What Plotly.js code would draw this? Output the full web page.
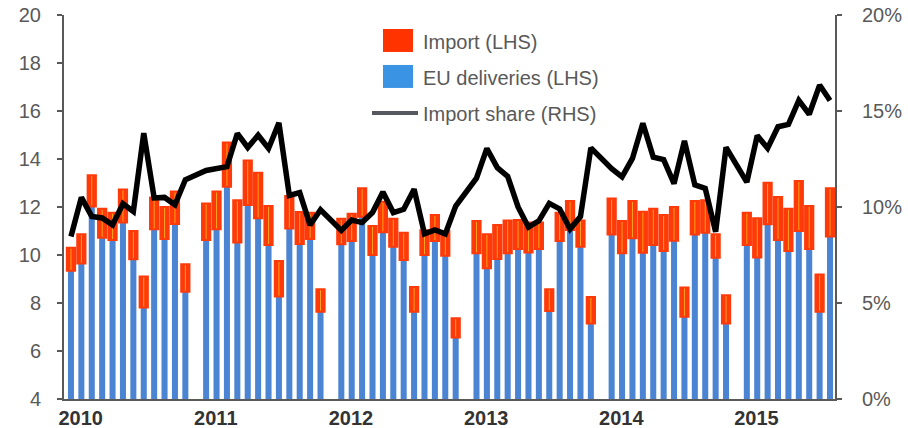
<!DOCTYPE html>
<html><head><meta charset="utf-8">
<script src="https://cdn.plot.ly/plotly-3.0.1.min.js"></script>
<style>html,body{margin:0;padding:0;background:#fff}#chart{width:908px;height:428px}</style>
</head><body><div id="chart"></div>
<script>
// Year tick labels
const years = ['2010', '2011', '2012', '2013', '2014', '2015'];
const months = ['Jan','Feb','Mar','Apr','May','Jun','Jul','Aug','Sep','Oct','Nov','Dec'];

// EU deliveries (LHS), monthly Jan 2010 - Sep 2015
const euDeliveries = [
  9.39, 9.69, 12.06, 10.76, 10.67, 11.40, 9.86, 7.85, 11.11, 10.71, 11.33, 8.51,
  10.67, 11.11, 12.89, 10.56, 12.13, 11.57, 10.46, 8.31, 11.15, 10.50, 10.71, 7.68,
  10.49, 10.63, 11.64, 10.04, 10.99, 10.39, 9.83, 7.68, 10.04, 10.63, 10.01, 6.60,
  10.11, 9.49, 9.88, 10.11, 10.29, 10.15, 10.29, 7.71, 10.63, 11.08, 10.39, 7.19,
  10.90, 10.11, 10.74, 10.14, 10.46, 10.21, 10.64, 7.47, 10.90, 10.97, 9.93, 7.19,
  10.46, 9.94, 11.32, 10.67, 10.21, 11.04, 10.29, 7.68, 10.81
];

// Import (LHS), stacked on EU deliveries
const imports = [
  0.87, 1.13, 1.22, 1.13, 1.05, 1.29, 1.10, 1.21, 1.24, 1.25, 1.27, 1.06,
  1.43, 1.49, 1.76, 1.68, 1.77, 1.82, 1.54, 1.40, 1.27, 1.25, 1.01, 0.85,
  0.98, 1.05, 1.10, 1.13, 1.19, 1.08, 1.06, 0.95, 0.95, 1.00, 0.95, 0.72,
  1.27, 1.33, 1.33, 1.29, 1.13, 1.16, 1.02, 0.82, 1.09, 1.13, 1.01, 1.02,
  1.41, 1.27, 1.47, 1.62, 1.43, 1.42, 1.32, 1.13, 1.31, 1.27, 0.89, 1.09,
  1.26, 1.55, 1.65, 1.71, 1.68, 2.00, 1.71, 1.47, 1.93
];

// Import share (RHS), %
const importShare = [
  8.46, 10.50, 9.51, 9.43, 9.07, 10.17, 9.77, 13.85, 10.47, 10.50, 10.12, 11.42,
  11.90, 12.00, 12.10, 13.83, 13.10, 13.74, 13.05, 14.38, 10.60, 10.75, 9.06, 9.86,
  8.78, 9.32, 9.19, 9.71, 10.78, 9.71, 9.88, 10.93, 8.60, 8.80, 8.60, 10.05,
  11.50, 13.05, 12.05, 11.60, 10.00, 8.95, 9.28, 10.19, 9.90, 8.85, 9.50, 13.08,
  12.00, 11.57, 12.53, 14.36, 12.60, 12.47, 11.22, 13.44, 11.15, 10.97, 8.71, 13.11,
  11.30, 13.72, 13.06, 14.18, 14.30, 15.55, 14.83, 16.35, 15.55
];

// Each year occupies 12 monthly slots plus one empty spacer slot
const slot = euDeliveries.map((_, i) => Math.floor(i / 12) * 13 + (i % 12));
const labels = euDeliveries.map((_, i) => months[i % 12] + ' ' + years[Math.floor(i / 12)]);

const font = 'Liberation Sans, Arial, sans-serif';
const RED = '#ff3300', BLUE = '#4a84d2', BLUE_KEY = '#3b93e3', KEY_LINE = '#55595f';

const traces = [
  {
    type: 'bar', name: 'EU deliveries (LHS)', x: slot, y: euDeliveries, text: labels,
    width: 0.58, marker: {color: BLUE}, showlegend: false, textposition: 'none',
    hovertemplate: '%{text}: %{y:.2f}<extra>EU deliveries</extra>'
  },
  {
    type: 'bar', name: 'Import (LHS)', x: slot, y: imports, base: euDeliveries, text: labels,
    width: 0.6, marker: {color: RED, line: {color: '#ff3a0a', width: 4}},
    showlegend: false, textposition: 'none',
    hovertemplate: '%{text}: %{y:.2f}<extra>Import</extra>'
  },
  {
    type: 'bar', x: slot, y: imports, base: euDeliveries, width: 0.1,
    marker: {color: '#ffa41a'}, showlegend: false, hoverinfo: 'skip'
  },
  {
    type: 'scatter', mode: 'lines', name: 'Import share (RHS)', x: slot, y: importShare,
    yaxis: 'y2', line: {color: '#000000', width: 5.5}, showlegend: false,
    text: labels, hovertemplate: '%{text}: %{y:.1f}%<extra>Import share</extra>'
  },
  // legend keys
  {
    type: 'bar', name: 'Import (LHS)', x: [null], y: [null],
    marker: {color: RED, line: {color: RED, width: 2}}, legendrank: 1, legendgroup: 'imp', hoverinfo: 'skip'
  },
  {
    type: 'bar', name: 'EU deliveries (LHS)', x: [null], y: [null],
    marker: {color: BLUE_KEY, line: {color: BLUE_KEY, width: 2}}, legendrank: 2, legendgroup: 'eu', hoverinfo: 'skip'
  },
  {
    type: 'scatter', mode: 'lines', name: 'Import share (RHS)', x: [null], y: [null],
    yaxis: 'y2', line: {color: KEY_LINE, width: 4}, legendrank: 3, legendgroup: 'sh',
    hoverinfo: 'skip'
  }
];

// paper-coordinate helpers for the enlarged legend key boxes
const L = 64, W = 771, B = 399.3, H = 384.3;
const px = v => (v - L) / W, py = v => (B - v) / H;

const layout = {
  width: 908, height: 428,
  margin: {l: 64, r: 73, t: 15, b: 29},
  paper_bgcolor: '#ffffff', plot_bgcolor: '#ffffff',
  font: {family: font, size: 20, color: '#595959'},
  barmode: 'overlay',
  showlegend: true,
  legend: {
    x: px(367), y: py(21.5), xanchor: 'left', yanchor: 'top',
    bgcolor: 'rgba(0,0,0,0)', font: {family: font, size: 20, color: '#595959'},
    itemwidth: 46, tracegroupgap: 7, traceorder: 'grouped'
  },
  shapes: [
    {type: 'rect', xref: 'paper', yref: 'paper', x0: px(383), x1: px(413), y0: py(52), y1: py(29),
     fillcolor: RED, line: {width: 0}, layer: 'above'},
    {type: 'rect', xref: 'paper', yref: 'paper', x0: px(383), x1: px(413), y0: py(88), y1: py(65),
     fillcolor: BLUE_KEY, line: {width: 0}, layer: 'above'}
  ],
  xaxis: {
    range: [-0.67, 73.48],
    tickmode: 'array',
    tickvals: years.map((_, k) => k * 13 + 0.93),
    ticktext: years.map(y => '<b>' + y + '</b>'),
    tickfont: {family: font, size: 20, color: '#333333'},
    ticks: '', showgrid: false, zeroline: false,
    showline: true, linecolor: '#595959', linewidth: 2
  },
  yaxis: {
    range: [4, 20], tick0: 4, dtick: 2,
    ticks: 'outside', ticklen: 5, tickwidth: 2, tickcolor: '#595959',
    ticklabelstandoff: 12,
    showgrid: false, zeroline: false,
    showline: true, linecolor: '#595959', linewidth: 2
  },
  yaxis2: {
    overlaying: 'y', side: 'right', range: [0, 20], tick0: 0, dtick: 5,
    ticksuffix: '%', ticks: 'outside', ticklen: 5, tickwidth: 2, tickcolor: '#595959',
    ticklabelstandoff: 16,
    showgrid: false, zeroline: false,
    showline: true, linecolor: '#595959', linewidth: 2
  }
};

Plotly.newPlot('chart', traces, layout, {displayModeBar: false, staticPlot: true});
</script>
</body></html>
